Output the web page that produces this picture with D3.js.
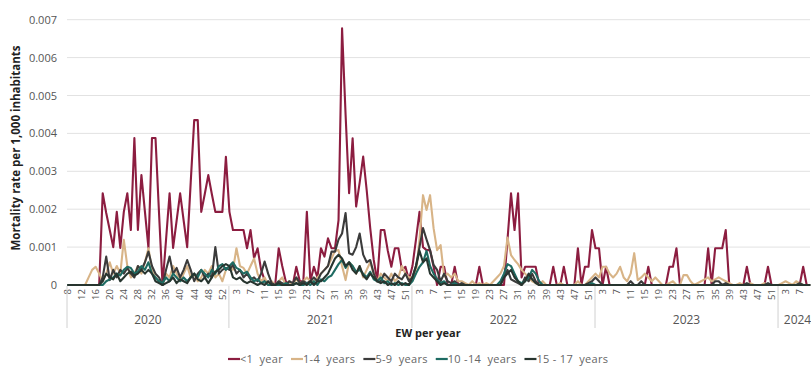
<!DOCTYPE html>
<html><head><meta charset="utf-8">
<script src="https://cdn.jsdelivr.net/npm/d3@7"></script>
<style>body{margin:0;background:#fff}svg{display:block;font-family:"Open Sans",sans-serif}</style>
</head><body><svg id="c" width="811" height="366"></svg>
<script>
// ---- categories: epidemiological weeks per year ----
const years = [2020, 2021, 2022, 2023, 2024];
const firstWeek = [8, 1, 1, 1, 1];
const lastWeek = [53, 52, 52, 52, 10];
const yTicks = [0, 1, 2, 3, 4, 5, 6, 7]; // in thousandths
const seriesNames = ["<1 year", "1-4 years", "5-9 years", "10-14 years", "15-17 years"];
const legendLabels = ["<1  year", "1-4  years", "5-9  years", "10 -14  years", "15 - 17  years"];
const colors = ["#8c1d40", "#d8b487", "#3b3b3b", "#1e6b62", "#27352f"];

// ---- values (mortality rate per 1,000, in thousandths) ----
const under1 = [
 0,0,0,0,0,0,0,0,0,0, 2.42,1.9,1.45,1.0,1.93,0.98,1.93,2.42,1.45,3.88,
 1.45,2.9,1.93,0.98,3.88,3.88,1.9,0,1.2,2.42, 0.98,1.7,2.42,1.7,1.0,2.7,4.35,4.35,1.93,2.4,
 2.9,2.4,1.93,1.93,1.93,3.38,
 1.93,1.45,1.45,1.45,1.45,0.97,1.45,0.71,0.97,0.4, 0.13,0,0,0,0.97,0.5,0.1,0,0,0.48,
 0.1,0.1,1.93,0.1,0.48,0.2,0.97,0.75,1.23,0.97, 0.97,1.71,6.77,4.5,2.42,3.87,2.07,2.7,3.39,2.5,
 1.5,0.66,0.1,1.45,1.45,0.9,0.48,0.97,0.97,0.4,0.48,0.13,
 0.5,1.2,1.93,1.0,0.92,0.92,0.48,0,0.48,0.48, 0,0,0.48,0,0,0,0,0,0,0.48,
 0,0,0,0,0,0,0,1.2,2.42,1.45, 2.42,0.2,0.48,0.48,0.48,0.48,0,0,0,0,
 0.48,0,0,0.48,0,0,0,0.97,0,0.48,0.48,1.45,
 0.97,0.97,0,0.48,0,0,0,0,0,0, 0,0,0,0,0,0.48,0,0,0,0,
 0,0.48,0.48,0.97,0,0,0,0,0,0, 0,0,0.97,0,0.97,0.97,0.97,1.45,0,0,
 0,0,0,0.48,0,0,0,0,0,0.48,0,0,
 0,0,0,0,0,0,0,0.48,0,0
];
const age1to4 = [
 0,0,0,0,0,0,0.2,0.4,0.48,0.3, 0.1,0.3,0.6,0.3,0.5,0.3,1.19,0.5,0.2,0.3,
 0.5,0.3,0.6,0.97,0.4,0.2,0.1,0,0.3,0.2, 0.5,0.3,0.1,0.3,0.5,0.2,0.3,0.1,0.2,0.4,
 0.3,0.5,0.2,0.3,0.1,0.4,
 0.5,0.4,0.97,0.5,0.45,0.3,0.5,0.7,0.3,0.1, 0.2,0,0.1,0,0.1,0.2,0,0.1,0,0.15,
 0.05,0.1,0.2,0.1,0.1,0.2,0.3,0.4,0.5,0.7, 0.9,0.92,0.5,0.13,0.6,0.5,0.3,0.5,0.2,0.4,
 0.6,0.3,0.1,0.3,0.2,0.1,0.3,0.1,0.2,0.5,0.3,0.2,
 0.2,0.3,1.2,2.37,1.98,2.37,1.5,0.92,1.05,0.22, 0.3,0.2,0.3,0.1,0.1,0.05,0,0.1,0,0.05,
 0,0.05,0,0.1,0.2,0.3,0.5,1.25,0.79,0.66, 0.55,0.4,0.3,0.2,0.1,0.05,0,0.1,0,0,
 0,0,0.05,0,0,0,0,0.1,0,0,0.1,0.2,
 0.3,0.2,0.48,0.48,0.3,0.2,0.3,0.48,0.2,0.1, 0.3,0.84,0.13,0.2,0.3,0.2,0.1,0.2,0.1,0,
 0,0.05,0.1,0,0,0.26,0.26,0.1,0,0.05, 0.1,0.15,0.2,0.1,0.15,0.2,0.15,0.1,0.05,0,
 0,0.05,0,0,0.05,0,0,0,0.05,0,0,0,
 0,0.05,0.1,0.05,0,0.1,0.05,0,0,0
];
const age5to9 = [
 0,0,0,0,0,0,0,0,0,0, 0.2,0.75,0.13,0.4,0.2,0.4,0.3,0.45,0.3,0.2,
 0.5,0.4,0.6,0.88,0.5,0.3,0.2,0,0.4,0.75, 0.3,0.45,0.2,0.4,0.66,0.4,0.1,0.3,0.4,0.2,
 0.3,0.2,1.0,0.3,0.4,0.45,
 0.4,0.53,0.3,0.4,0.2,0.3,0.15,0.2,0.1,0.3, 0.62,0.3,0.05,0,0.1,0.05,0,0.1,0.05,0.2,
 0.05,0.1,0.05,0.1,0.2,0.1,0.3,0.4,0.5,0.88, 0.88,1.2,1.36,1.9,0.84,0.8,1.0,1.36,0.8,0.6,
 0.66,0.3,0.1,0.1,0.3,0.2,0.1,0.3,0.2,0.15,0.3,0.1,
 0.2,0.5,1.0,1.5,1.2,0.92,0.53,0.4,0.1,0.3, 0.1,0.05,0.1,0,0.05,0,0,0,0,0,
 0,0,0,0,0,0,0.2,0.4,0.15,0.1, 0.05,0,0.2,0.1,0.3,0.1,0,0,0,0,
 0,0,0,0,0,0,0,0,0,0,0.05,0.1,
 0.2,0.1,0,0,0,0,0,0,0,0, 0.1,0,0,0.1,0,0,0,0,0,0,
 0,0,0,0,0,0,0,0,0,0, 0,0,0,0,0.1,0.1,0,0.05,0,0,
 0,0,0,0.05,0,0,0,0,0,0.05,0,0,
 0,0,0,0,0,0,0.05,0,0,0
];
const age10to14 = [
 0,0,0,0,0,0,0,0,0,0, 0,0.1,0.15,0.2,0.3,0.25,0.4,0.48,0.45,0.3,
 0.35,0.5,0.4,0.6,0.3,0.2,0.1,0.05,0.2,0.1, 0.3,0.2,0.1,0.2,0.1,0.2,0.3,0.2,0.4,0.3,
 0.2,0.4,0.3,0.5,0.55,0.4,
 0.5,0.6,0.45,0.4,0.3,0.35,0.2,0.1,0.15,0.05, 0.1,0,0,0,0,0,0.05,0,0,0.05,
 0,0,0.05,0,0.1,0,0.15,0.1,0.2,0.25, 0.4,0.55,0.66,0.45,0.6,0.5,0.35,0.4,0.3,0.2,
 0.35,0.15,0.1,0.2,0.05,0.1,0,0.05,0,0.05,0,0,
 0.1,0.3,0.48,0.6,0.9,0.5,0.3,0.15,0.05,0.1, 0,0,0.05,0,0,0,0,0,0,0,
 0,0,0,0,0,0.1,0.3,0.55,0.5,0.3, 0.1,0.05,0.1,0.2,0.4,0.3,0.1,0,0,0,
 0,0,0,0,0,0,0,0,0,0,0,0.05,
 0,0,0,0,0,0,0,0,0,0, 0,0,0,0,0,0,0,0,0,0,
 0,0,0,0,0,0,0,0,0,0, 0,0,0,0,0,0,0,0,0,0,
 0,0,0,0,0,0,0,0,0,0,0,0,
 0,0,0,0,0,0,0,0,0,0
];
const age15to17 = [
 0,0,0,0,0,0,0,0,0,0, 0.1,0.3,0.2,0.15,0.3,0.1,0.2,0.3,0.35,0.25,
 0.3,0.4,0.3,0.4,0.3,0.1,0.05,0,0.05,0.1, 0.2,0.05,0.15,0.1,0.05,0.2,0.3,0.15,0.1,0.2,
 0.05,0.2,0.35,0.4,0.5,0.55,
 0.5,0.2,0.15,0.2,0.1,0.05,0.1,0.05,0,0.05, 0,0.1,0,0,0.05,0,0,0,0,0.05,
 0,0.05,0,0.1,0,0.1,0.1,0.2,0.3,0.5, 0.7,0.8,0.7,0.5,0.6,0.4,0.3,0.5,0.25,0.15,
 0.3,0.2,0.1,0.05,0.1,0,0.05,0,0.1,0,0.05,0,
 0.2,0.5,0.9,0.6,0.7,0.3,0.2,0.1,0,0.05, 0,0,0,0,0,0,0,0,0,0,
 0,0,0,0,0,0,0.2,0.3,0.4,0.2, 0.1,0,0.1,0.3,0.15,0.05,0,0,0,0,
 0,0,0,0,0,0,0,0,0,0,0,0,
 0,0,0,0,0,0,0,0,0,0, 0,0,0,0,0,0,0,0,0,0,
 0,0,0,0,0,0,0,0,0,0, 0,0,0,0,0,0,0,0,0,0,
 0,0,0,0,0,0,0,0,0,0,0,0,
 0,0,0,0,0,0,0,0,0,0
];
const series = [under1, age1to4, age5to9, age10to14, age15to17];

// ---- build categories ----
const cats = [];
years.forEach((yr, k) => { for (let w = firstWeek[k]; w <= lastWeek[k]; w++) cats.push({ year: yr, week: w }); });
const n = cats.length;

const svg = d3.select("#c");
const x = d3.scalePoint().domain(d3.range(n)).range([67.5, 67.5 + (n - 1) * 3.52]);
const y = d3.scaleLinear().domain([0, 7]).range([285, 19.7]);

// gridlines
svg.append("g").selectAll("line").data(yTicks).join("line")
  .attr("x1", 67).attr("x2", 810).attr("y1", d => y(d)).attr("y2", d => y(d))
  .attr("stroke", "#e2e2e2").attr("stroke-width", 1);

// y axis labels
const yAxis = d3.axisLeft(y).tickValues(yTicks).tickSize(0).tickPadding(0)
  .tickFormat(d => d === 0 ? "0" : (d / 1000).toFixed(3));
svg.append("g").attr("transform", "translate(57,0)").call(yAxis)
  .call(g => g.select(".domain").remove())
  .call(g => g.selectAll("text").attr("font-size", 11).attr("fill", "#555").attr("font-family", "Open Sans"));

// y title
svg.append("text").attr("transform", "translate(20,148) rotate(-90)").attr("text-anchor", "middle")
  .attr("font-size", 11.5).attr("font-weight", "bold").attr("fill", "#222").text("Mortality rate per 1,000 inhabitants");

// x tick labels (every 4th week), rotated
const tickIdx = d3.range(n).filter(i => i % 4 === 0);
svg.append("g").selectAll("text").data(tickIdx).join("text")
  .attr("transform", i => `translate(${x(i)},289) rotate(-90)`)
  .attr("text-anchor", "end").attr("dy", "0.35em")
  .attr("font-size", 9.5).attr("fill", "#555").text(i => cats[i].week);

// year dividers and labels
const yearStart = years.map(yr => cats.findIndex(c => c.year === yr));
const divX = yearStart.map((s, k) => k === 0 ? 67 : x(s) - 0.5);
svg.append("g").selectAll("line").data(divX).join("line")
  .attr("x1", d => d).attr("x2", d => d).attr("y1", 286).attr("y2", 328)
  .attr("stroke", "#d0d0d0").attr("stroke-width", 1);
svg.append("g").selectAll("text").data(years).join("text")
  .attr("x", (yr, k) => { const a = divX[k]; const b = k < years.length - 1 ? divX[k + 1] : 811; return (a + b) / 2 + (k === years.length-1 ? 3 : 0); })
  .attr("y", 324).attr("text-anchor", "middle").attr("font-size", 12).attr("fill", "#555").text(d => d);

// x title
svg.append("text").attr("x", 428).attr("y", 337).attr("text-anchor", "middle")
  .attr("font-size", 11).attr("font-weight", "bold").attr("fill", "#222").text("EW per year");

// lines
const line = d3.line().x((d, i) => x(i)).y(d => y(d));
svg.append("g").selectAll("path").data(series).join("path")
  .attr("d", d => line(d)).attr("fill", "none")
  .attr("stroke", (d, k) => colors[k]).attr("stroke-width", 2.1).attr("stroke-linejoin", "round");

// legend
const lg = svg.append("g").attr("font-size", 11).attr("fill", "#666");
let lx = 228;
legendLabels.forEach((lab, k) => {
  lg.append("line").attr("x1", lx).attr("x2", lx + 12).attr("y1", 359).attr("y2", 359)
    .attr("stroke", colors[k]).attr("stroke-width", 2.2);
  const t = lg.append("text").attr("x", lx + 12).attr("y", 363)
    .style("white-space", "pre").attr("letter-spacing", 0.3).text(lab);
  lx += 12 + t.node().getComputedTextLength() + 8;
});
</script></body></html>
